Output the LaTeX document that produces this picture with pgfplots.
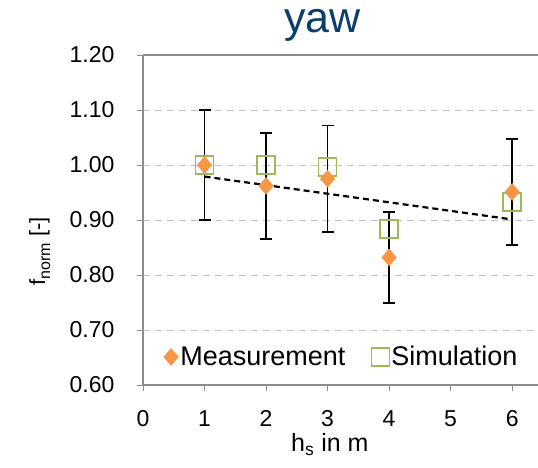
\documentclass[border=0pt]{standalone}
\usepackage{pgfplots}
\pgfplotsset{compat=1.18}
\usepackage{pgfplotstable}
\usepackage{fontspec}
\setmainfont{Liberation Sans}

\definecolor{measorange}{HTML}{F79646}
\definecolor{simgreen}{HTML}{9BBB59}
\definecolor{titleblue}{HTML}{0B3D6E}
\definecolor{gridgray}{HTML}{C4C4C4}
\definecolor{axisgray}{HTML}{8C8C8C}

% measured normalised frequency with its uncertainty
\pgfplotstableread{
x   y      e
1   1.000  0.100
2   0.962  0.096
3   0.975  0.097
4   0.832  0.083
6   0.951  0.096
}\measdata

% simulated normalised frequency
\pgfplotstableread{
x   y
1   1.000
2   1.000
3   0.996
4   0.884
6   0.933
}\simdata

\begin{document}
\begin{tikzpicture}
\useasboundingbox (0,0) rectangle (538pt,467pt);
\begin{axis}[
  at={(143pt,82pt)}, anchor=south west,
  scale only axis, width=395pt, height=330pt,
  xmin=0, xmax=6.42, ymin=0.6, ymax=1.2,
  xtick={0,1,2,3,4,5,6},
  ytick={0.6,0.7,0.8,0.9,1.0,1.1,1.2},
  axis x line*=bottom, axis y line*=left,
  axis line style={axisgray, line width=1.2pt},
  tick style={axisgray, line width=1pt},
  tick align=outside, major tick length=6pt,
  ymajorgrids,
  grid style={gridgray, dash pattern=on 7pt off 5pt, line width=1pt},
  /pgf/number format/assume math mode=true,
  yticklabel style={/pgf/number format/fixed, /pgf/number format/fixed zerofill,
    /pgf/number format/precision=2, xshift=-19pt},
  ticklabel style={font=\fontsize{23}{25}\selectfont, black},
  xticklabel style={yshift=-16pt},
  xlabel={h\textsubscript{s} in m},
  xlabel style={at={(axis description cs:0.473,-0.203)}, anchor=base,
    font=\fontsize{25}{27}\selectfont},
  ylabel={f\raisebox{-5pt}{\fontsize{16}{16}\selectfont norm} [-]},
  ylabel style={at={(axis description cs:-0.248,0.405)}, anchor=base,
    font=\fontsize{22}{24}\selectfont},
  legend style={at={(axis description cs:0.052,0.085)}, anchor=west,
    draw=none, fill=none, inner sep=0pt,
    font=\fontsize{27}{29}\selectfont, legend columns=2,
    /tikz/every even column/.append style={column sep=24pt}},
  legend cell align=left,
  clip=false,
]
  \addlegendimage{only marks, mark=diamond*, mark size=8.5pt,
    mark options={xscale=1.15}, color=measorange}
  \addlegendentry{Measurement}
  \addlegendimage{only marks, mark=square, mark size=9pt, color=simgreen, line width=1.8pt}
  \addlegendentry{Simulation}

  % simulation results
  \addplot[only marks, mark=square, mark size=9pt, color=simgreen,
    line width=1.8pt, forget plot] table[x=x, y=y] {\simdata};

  % linear trend of the measurements
  \addplot[black, line width=2.2pt, dash pattern=on 6pt off 4pt, forget plot]
    coordinates {(1,0.979) (6,0.901)};

  % measurements with error bars
  \addplot[only marks, mark=diamond*, mark size=8.5pt, color=measorange, forget plot,
    mark options={xscale=1.15},
    error bars/.cd, y dir=both, y explicit,
    error bar style={black, line width=1.8pt},
    error mark options={rotate=90, black, mark size=6pt, line width=1.8pt}]
    table[x=x, y=y, y error=e] {\measdata};

  \draw[axisgray, line width=1.2pt] (rel axis cs:0,1) -- (rel axis cs:1,1);
\end{axis}
\node[anchor=base, text=titleblue, font=\fontsize{43}{46}\selectfont]
  at (322.5pt,434pt) {yaw};
\end{tikzpicture}
\end{document}
